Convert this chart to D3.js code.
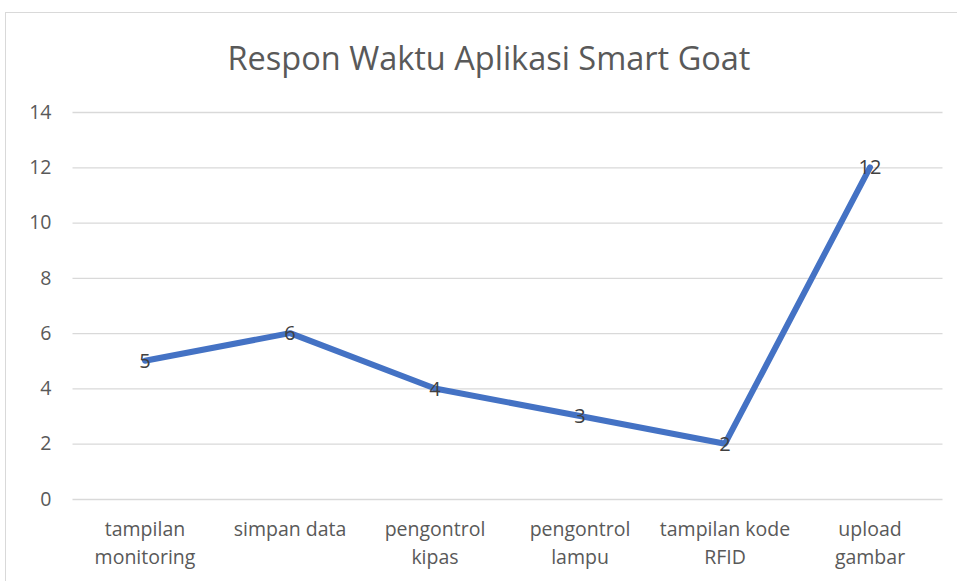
<!DOCTYPE html>
<html>
<head>
<meta charset="utf-8">
<script src="https://cdn.jsdelivr.net/npm/d3@7"></script>
<style>
  body { margin: 0; background: #fff; }
  text { font-family: "Open Sans", "Noto Sans", sans-serif; }
</style>
</head>
<body>
<script>
// data
var categories = [["tampilan", "monitoring"], ["simpan data"], ["pengontrol", "kipas"],
                  ["pengontrol", "lampu"], ["tampilan kode", "RFID"], ["upload", "gambar"]]
  , values     = [5, 6, 4, 3, 2, 12]
  , yTicks     = [0, 2, 4, 6, 8, 10, 12, 14]
  , title      = "Respon Waktu Aplikasi Smart Goat"

var W = 957, H = 581
  , plotLeft = 72.5, plotRight = 942.5, plotTop = 112, plotBottom = 499

var svg = d3.select("body").append("svg")
    .attr("width", W).attr("height", H)

// chart border (cropped on right/bottom)
svg.append("rect")
    .attr("x", 5.5).attr("y", 12.5)
    .attr("width", 1000).attr("height", 1000)
    .attr("fill", "none").attr("stroke", "#d9d9d9")

var x = d3.scaleBand()
    .domain(d3.range(categories.length))
    .range([plotLeft, plotRight])

var y = d3.scaleLinear()
    .domain([0, 14])
    .range([plotBottom, plotTop])

// gridlines + y labels
var yAxis = svg.append("g")
    .attr("transform", "translate(" + plotLeft + ",0)")
    .call(d3.axisLeft(y).tickValues(yTicks).tickSize(-(plotRight - plotLeft)).tickPadding(21))
yAxis.select(".domain").remove()
yAxis.selectAll("line").attr("stroke", "#d9d9d9").attr("stroke-width", 1.3)
yAxis.selectAll("text")
    .attr("fill", "#595959").style("font-size", "19.5px")

// category labels
var xg = svg.append("g")
categories.forEach(function (lines, i) {
	var cx = x(i) + x.bandwidth() / 2
	var t = xg.append("text")
	    .attr("x", cx)
	    .attr("y", 536)
	    .attr("text-anchor", "middle")
	    .attr("fill", "#595959")
	    .style("font-size", "19.5px")
	lines.forEach(function (s, j) {
		t.append("tspan")
		    .attr("x", cx)
		    .attr("dy", j == 0 ? 0 : 28)
		    .text(s)
	})
})

// line
var line = d3.line()
    .x(function (d, i) { return x(i) + x.bandwidth() / 2 })
    .y(function (d) { return y(d) })

svg.append("path")
    .datum(values)
    .attr("d", line)
    .attr("fill", "none")
    .attr("stroke", "#4472c4")
    .attr("stroke-width", 6)
    .attr("stroke-linejoin", "round")
    .attr("stroke-linecap", "round")

// data labels
svg.selectAll(".lbl")
    .data(values)
  .enter().append("text")
    .attr("class", "lbl")
    .attr("x", function (d, i) { return x(i) + x.bandwidth() / 2 })
    .attr("y", function (d) { return y(d) })
    .attr("dy", "0.36em")
    .attr("text-anchor", "middle")
    .attr("fill", "#404040")
    .style("font-size", "20px")
    .text(function (d) { return d })

// title
svg.append("text")
    .attr("x", 489).attr("y", 70)
    .attr("text-anchor", "middle")
    .attr("fill", "#595959")
    .style("font-size", "32.5px")
    .text(title)
</script>
</body>
</html>
